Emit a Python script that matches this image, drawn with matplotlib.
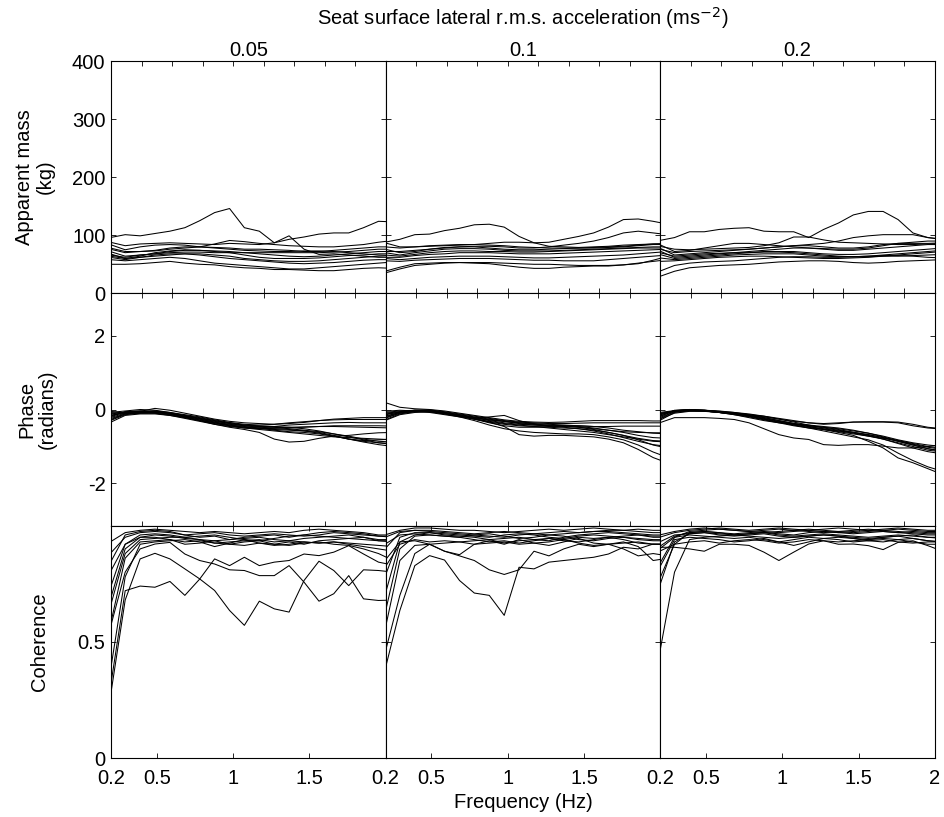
import matplotlib
matplotlib.use("Agg")
import matplotlib.pyplot as plt

plt.rcParams['font.family'] = ['Liberation Sans', 'DejaVu Sans']

freqs = [0.195, 0.293, 0.391, 0.488, 0.586, 0.684, 0.781, 0.879, 0.977, 1.074,
         1.172, 1.270, 1.367, 1.465, 1.563, 1.660, 1.758, 1.855, 1.953, 2.051]

col_labels = ["0.05", "0.1", "0.2"]

mass_005 = [
    [96, 101, 99, 103, 107, 113, 125, 139, 146, 113, 107, 87, 99, 76, 67, 68, 66, 64, 62, 62],
    [88, 82, 85, 86, 87, 86, 85, 84, 86, 85, 84, 87, 93, 97, 102, 104, 104, 113, 124, 123],
    [84, 75, 80, 83, 84, 83, 80, 85, 91, 89, 86, 84, 82, 81, 80, 80, 82, 84, 88, 91],
    [78, 72, 72, 74, 78, 80, 80, 79, 78, 76, 76, 75, 74, 72, 72, 74, 76, 78, 80, 80],
    [72, 64, 66, 68, 72, 74, 74, 73, 72, 70, 68, 66, 64, 63, 64, 66, 68, 70, 72, 72],
    [68, 60, 64, 70, 73, 75, 74, 72, 70, 66, 62, 60, 60, 60, 61, 63, 65, 66, 68, 68],
    [66, 62, 66, 68, 70, 71, 71, 70, 70, 70, 70, 70, 70, 70, 70, 71, 72, 74, 76, 76],
    [64, 60, 62, 64, 66, 68, 68, 66, 64, 60, 58, 56, 55, 55, 56, 58, 60, 62, 64, 65],
    [62, 58, 62, 66, 68, 68, 66, 63, 60, 58, 56, 54, 52, 51, 52, 53, 55, 57, 58, 58],
    [58, 56, 58, 60, 62, 60, 56, 52, 50, 48, 46, 44, 42, 42, 44, 46, 48, 50, 52, 54],
    [50, 50, 51, 53, 55, 52, 50, 49, 46, 44, 43, 41, 41, 40, 39, 39, 41, 43, 44, 43],
    [76, 70, 72, 73, 76, 78, 80, 78, 76, 74, 73, 72, 72, 73, 73, 72, 70, 68, 66, 65],
]
mass_01 = [
    [88, 93, 101, 102, 108, 112, 118, 119, 114, 98, 87, 81, 80, 79, 80, 81, 83, 84, 85, 85],
    [87, 80, 80, 81, 82, 83, 84, 86, 88, 88, 87, 88, 93, 98, 104, 114, 127, 128, 124, 119],
    [72, 72, 74, 76, 78, 80, 81, 81, 80, 78, 78, 80, 83, 86, 90, 96, 104, 107, 104, 101],
    [80, 78, 80, 82, 83, 84, 84, 83, 82, 80, 79, 78, 78, 78, 79, 80, 81, 83, 85, 86],
    [76, 70, 72, 76, 79, 80, 80, 78, 76, 75, 75, 76, 77, 78, 78, 79, 80, 82, 84, 84],
    [70, 66, 70, 73, 76, 77, 77, 76, 74, 73, 73, 73, 74, 75, 76, 77, 78, 79, 80, 80],
    [66, 64, 67, 70, 72, 73, 73, 72, 72, 71, 71, 72, 73, 74, 75, 76, 77, 78, 78, 78],
    [62, 62, 65, 67, 68, 70, 70, 70, 69, 68, 68, 68, 69, 70, 71, 72, 73, 74, 75, 76],
    [60, 58, 60, 62, 63, 64, 64, 64, 63, 62, 61, 61, 62, 63, 64, 65, 66, 68, 70, 72],
    [56, 55, 57, 58, 59, 60, 60, 60, 59, 58, 57, 57, 56, 56, 56, 58, 60, 62, 64, 66],
    [38, 45, 51, 52, 53, 53, 52, 51, 48, 45, 43, 43, 45, 46, 47, 47, 49, 51, 57, 64],
    [35, 42, 48, 50, 52, 53, 53, 53, 52, 51, 50, 50, 49, 48, 48, 48, 49, 52, 55, 58],
]
mass_02 = [
    [91, 96, 106, 106, 110, 112, 113, 107, 106, 106, 96, 110, 121, 135, 141, 141, 127, 104, 96, 93],
    [81, 76, 75, 76, 77, 78, 79, 82, 87, 97, 97, 92, 88, 87, 86, 85, 84, 84, 85, 86],
    [76, 70, 72, 73, 74, 75, 76, 78, 80, 82, 84, 86, 90, 96, 99, 101, 101, 101, 96, 93],
    [84, 72, 74, 78, 82, 86, 86, 84, 82, 80, 78, 77, 76, 76, 78, 82, 86, 88, 90, 90],
    [78, 66, 68, 70, 72, 74, 76, 78, 80, 82, 82, 80, 78, 78, 80, 84, 86, 86, 86, 87],
    [73, 62, 64, 66, 68, 70, 72, 74, 76, 78, 78, 76, 74, 74, 76, 78, 80, 82, 84, 84],
    [67, 60, 62, 64, 66, 68, 70, 72, 72, 72, 70, 68, 67, 67, 68, 70, 72, 74, 76, 78],
    [61, 58, 60, 62, 64, 66, 67, 68, 68, 68, 66, 64, 63, 63, 64, 66, 68, 70, 72, 74],
    [55, 56, 58, 60, 62, 63, 64, 64, 63, 62, 61, 60, 60, 61, 62, 64, 66, 68, 70, 72],
    [70, 64, 66, 68, 69, 70, 70, 71, 71, 70, 68, 66, 64, 63, 63, 64, 64, 65, 66, 67],
    [38, 48, 52, 54, 55, 56, 58, 60, 62, 63, 63, 62, 62, 63, 64, 65, 65, 64, 62, 61],
    [29, 38, 44, 46, 48, 49, 50, 52, 54, 55, 56, 56, 55, 53, 52, 53, 55, 56, 57, 58],
]

phase_005 = [
    [-0.05, -0.10, -0.05, 0.03, -0.02, -0.10, -0.18, -0.26, -0.32, -0.36, -0.38, -0.40, -0.38, -0.35, -0.30, -0.26, -0.24, -0.22, -0.22, -0.22],
    [-0.10, -0.08, -0.06, -0.04, -0.08, -0.14, -0.20, -0.28, -0.35, -0.40, -0.42, -0.40, -0.36, -0.33, -0.30, -0.28, -0.27, -0.27, -0.27, -0.27],
    [-0.15, -0.10, -0.08, -0.08, -0.12, -0.18, -0.24, -0.30, -0.36, -0.42, -0.46, -0.46, -0.42, -0.40, -0.38, -0.36, -0.35, -0.36, -0.36, -0.36],
    [-0.20, -0.06, -0.04, -0.06, -0.12, -0.20, -0.28, -0.36, -0.44, -0.50, -0.52, -0.50, -0.48, -0.47, -0.46, -0.46, -0.47, -0.48, -0.49, -0.50],
    [-0.25, -0.12, -0.10, -0.10, -0.14, -0.22, -0.30, -0.40, -0.48, -0.54, -0.62, -0.80, -0.88, -0.86, -0.78, -0.72, -0.70, -0.66, -0.63, -0.62],
    [-0.30, -0.14, -0.10, -0.08, -0.12, -0.18, -0.26, -0.34, -0.42, -0.48, -0.52, -0.54, -0.56, -0.58, -0.64, -0.72, -0.80, -0.84, -0.82, -0.80],
    [-0.08, -0.04, 0.00, -0.02, -0.08, -0.16, -0.24, -0.32, -0.38, -0.42, -0.44, -0.46, -0.48, -0.52, -0.58, -0.66, -0.74, -0.82, -0.90, -0.95],
    [-0.18, -0.06, -0.04, -0.06, -0.12, -0.20, -0.30, -0.38, -0.44, -0.48, -0.50, -0.52, -0.54, -0.58, -0.62, -0.70, -0.80, -0.88, -0.95, -1.00],
    [-0.35, -0.16, -0.12, -0.12, -0.16, -0.22, -0.30, -0.36, -0.42, -0.46, -0.50, -0.56, -0.60, -0.62, -0.66, -0.72, -0.80, -0.86, -0.90, -0.92],
    [-0.12, -0.08, -0.06, -0.06, -0.10, -0.16, -0.22, -0.30, -0.38, -0.44, -0.48, -0.50, -0.50, -0.48, -0.46, -0.44, -0.44, -0.44, -0.44, -0.45],
    [-0.22, -0.10, -0.08, -0.10, -0.16, -0.24, -0.32, -0.40, -0.46, -0.50, -0.54, -0.58, -0.62, -0.66, -0.70, -0.74, -0.76, -0.78, -0.80, -0.82],
    [-0.28, -0.12, -0.06, -0.04, -0.10, -0.18, -0.26, -0.34, -0.40, -0.44, -0.46, -0.48, -0.52, -0.56, -0.60, -0.66, -0.72, -0.80, -0.86, -0.88],
]
phase_01 = [
    [0.19, 0.06, 0.02, 0.00, -0.04, -0.10, -0.16, -0.22, -0.28, -0.32, -0.34, -0.35, -0.34, -0.32, -0.30, -0.30, -0.30, -0.30, -0.31, -0.31],
    [-0.10, -0.06, -0.02, -0.01, -0.06, -0.12, -0.18, -0.24, -0.30, -0.34, -0.36, -0.38, -0.38, -0.37, -0.36, -0.36, -0.36, -0.36, -0.36, -0.36],
    [-0.20, -0.08, -0.03, -0.04, -0.10, -0.16, -0.22, -0.28, -0.32, -0.36, -0.38, -0.40, -0.42, -0.44, -0.46, -0.46, -0.45, -0.45, -0.45, -0.45],
    [-0.28, -0.12, -0.06, -0.06, -0.12, -0.18, -0.24, -0.20, -0.16, -0.30, -0.40, -0.44, -0.46, -0.48, -0.52, -0.56, -0.60, -0.62, -0.63, -0.63],
    [-0.15, -0.06, -0.04, -0.06, -0.12, -0.20, -0.30, -0.42, -0.52, -0.58, -0.62, -0.64, -0.66, -0.66, -0.68, -0.74, -0.82, -0.96, -1.15, -1.30],
    [-0.30, -0.14, -0.08, -0.06, -0.10, -0.16, -0.24, -0.34, -0.46, -0.68, -0.72, -0.70, -0.70, -0.72, -0.74, -0.80, -0.90, -1.08, -1.30, -1.45],
    [-0.05, -0.02, -0.04, -0.08, -0.14, -0.20, -0.26, -0.32, -0.38, -0.42, -0.46, -0.50, -0.54, -0.58, -0.62, -0.68, -0.74, -0.80, -0.86, -0.88],
    [-0.24, -0.10, -0.04, -0.03, -0.08, -0.14, -0.22, -0.30, -0.36, -0.40, -0.42, -0.44, -0.48, -0.52, -0.58, -0.66, -0.76, -0.86, -0.95, -1.00],
    [-0.12, -0.08, -0.04, -0.04, -0.08, -0.14, -0.20, -0.26, -0.32, -0.38, -0.42, -0.44, -0.44, -0.46, -0.50, -0.56, -0.62, -0.70, -0.76, -0.78],
    [-0.18, -0.08, -0.02, -0.02, -0.08, -0.16, -0.26, -0.36, -0.44, -0.48, -0.48, -0.46, -0.44, -0.44, -0.46, -0.50, -0.56, -0.60, -0.64, -0.66],
    [-0.08, -0.04, -0.02, -0.04, -0.10, -0.16, -0.22, -0.28, -0.32, -0.36, -0.40, -0.42, -0.44, -0.48, -0.54, -0.62, -0.70, -0.78, -0.84, -0.86],
    [-0.22, -0.10, -0.06, -0.06, -0.10, -0.18, -0.26, -0.34, -0.40, -0.44, -0.46, -0.48, -0.50, -0.52, -0.56, -0.62, -0.70, -0.82, -0.96, -1.05],
]
phase_02 = [
    [-0.20, -0.02, 0.00, -0.02, -0.06, -0.10, -0.14, -0.18, -0.24, -0.30, -0.36, -0.40, -0.38, -0.34, -0.33, -0.33, -0.34, -0.40, -0.48, -0.52],
    [-0.12, -0.04, -0.02, -0.03, -0.06, -0.10, -0.14, -0.20, -0.26, -0.32, -0.36, -0.38, -0.36, -0.34, -0.34, -0.34, -0.36, -0.44, -0.50, -0.53],
    [-0.36, -0.22, -0.22, -0.22, -0.24, -0.27, -0.36, -0.52, -0.68, -0.77, -0.81, -0.95, -0.97, -0.95, -0.95, -0.99, -1.04, -1.04, -1.00, -0.95],
    [-0.15, -0.03, 0.00, -0.02, -0.06, -0.10, -0.16, -0.22, -0.30, -0.38, -0.46, -0.54, -0.62, -0.70, -0.86, -1.04, -1.31, -1.44, -1.60, -1.76],
    [-0.10, -0.04, -0.02, -0.04, -0.08, -0.12, -0.18, -0.26, -0.34, -0.42, -0.50, -0.58, -0.66, -0.74, -0.82, -0.96, -1.18, -1.38, -1.55, -1.67],
    [-0.25, -0.06, -0.02, -0.04, -0.08, -0.12, -0.18, -0.26, -0.34, -0.40, -0.46, -0.52, -0.58, -0.64, -0.72, -0.80, -0.90, -1.00, -1.10, -1.15],
    [-0.18, -0.04, 0.00, -0.02, -0.05, -0.08, -0.12, -0.18, -0.26, -0.34, -0.42, -0.50, -0.56, -0.62, -0.68, -0.76, -0.86, -0.96, -1.06, -1.12],
    [-0.30, -0.08, -0.04, -0.04, -0.08, -0.14, -0.22, -0.30, -0.36, -0.40, -0.44, -0.48, -0.54, -0.62, -0.70, -0.80, -0.92, -1.04, -1.14, -1.20],
    [-0.08, -0.03, -0.01, -0.02, -0.04, -0.08, -0.14, -0.22, -0.30, -0.38, -0.44, -0.48, -0.52, -0.58, -0.64, -0.72, -0.82, -0.90, -0.96, -1.00],
    [-0.22, -0.06, -0.03, -0.03, -0.06, -0.10, -0.16, -0.24, -0.32, -0.38, -0.42, -0.46, -0.50, -0.56, -0.64, -0.74, -0.84, -0.94, -1.02, -1.08],
    [-0.14, -0.05, -0.02, -0.04, -0.08, -0.14, -0.20, -0.28, -0.36, -0.44, -0.50, -0.54, -0.58, -0.62, -0.68, -0.76, -0.86, -0.96, -1.06, -1.14],
    [-0.26, -0.10, -0.05, -0.05, -0.08, -0.12, -0.18, -0.26, -0.34, -0.42, -0.48, -0.54, -0.60, -0.66, -0.72, -0.78, -0.84, -0.92, -1.00, -1.05],
]

coh_005 = [
    [0.30, 0.72, 0.74, 0.735, 0.76, 0.70, 0.77, 0.857, 0.828, 0.864, 0.828, 0.843, 0.85, 0.878, 0.871, 0.886, 0.914, 0.878, 0.843, 0.83],
    [0.26, 0.68, 0.857, 0.881, 0.857, 0.814, 0.771, 0.721, 0.635, 0.571, 0.675, 0.642, 0.628, 0.764, 0.847, 0.807, 0.742, 0.81, 0.807, 0.80],
    [0.56, 0.80, 0.90, 0.921, 0.928, 0.878, 0.85, 0.835, 0.81, 0.807, 0.785, 0.785, 0.828, 0.757, 0.675, 0.707, 0.785, 0.685, 0.678, 0.68],
    [0.93, 0.97, 0.98, 0.985, 0.98, 0.975, 0.97, 0.975, 0.97, 0.965, 0.97, 0.975, 0.97, 0.98, 0.985, 0.98, 0.975, 0.97, 0.96, 0.96],
    [0.84, 0.96, 0.975, 0.98, 0.975, 0.96, 0.95, 0.955, 0.94, 0.95, 0.955, 0.96, 0.95, 0.96, 0.97, 0.975, 0.97, 0.965, 0.955, 0.95],
    [0.68, 0.90, 0.95, 0.96, 0.955, 0.945, 0.94, 0.925, 0.93, 0.935, 0.94, 0.93, 0.935, 0.945, 0.95, 0.955, 0.96, 0.95, 0.94, 0.94],
    [0.57, 0.86, 0.93, 0.935, 0.94, 0.92, 0.925, 0.935, 0.92, 0.93, 0.935, 0.92, 0.93, 0.92, 0.935, 0.94, 0.945, 0.95, 0.935, 0.93],
    [0.37, 0.78, 0.92, 0.93, 0.935, 0.94, 0.93, 0.91, 0.925, 0.94, 0.925, 0.915, 0.92, 0.93, 0.925, 0.93, 0.92, 0.91, 0.90, 0.89],
    [0.88, 0.95, 0.97, 0.975, 0.97, 0.96, 0.965, 0.97, 0.96, 0.955, 0.96, 0.965, 0.96, 0.955, 0.96, 0.97, 0.965, 0.96, 0.955, 0.955],
    [0.80, 0.92, 0.95, 0.95, 0.94, 0.93, 0.935, 0.925, 0.92, 0.915, 0.925, 0.92, 0.915, 0.925, 0.93, 0.92, 0.915, 0.90, 0.88, 0.85],
    [0.65, 0.88, 0.94, 0.945, 0.95, 0.95, 0.94, 0.935, 0.94, 0.945, 0.95, 0.94, 0.935, 0.93, 0.925, 0.93, 0.925, 0.92, 0.915, 0.91],
    [0.73, 0.92, 0.96, 0.965, 0.96, 0.95, 0.955, 0.96, 0.95, 0.94, 0.935, 0.945, 0.955, 0.96, 0.955, 0.95, 0.945, 0.94, 0.935, 0.935],
]
coh_01 = [
    [0.378, 0.635, 0.828, 0.871, 0.852, 0.764, 0.71, 0.70, 0.614, 0.821, 0.814, 0.843, 0.85, 0.857, 0.864, 0.878, 0.907, 0.90, 0.921, 0.92],
    [0.45, 0.70, 0.88, 0.92, 0.89, 0.87, 0.85, 0.81, 0.79, 0.81, 0.89, 0.87, 0.90, 0.92, 0.91, 0.92, 0.90, 0.87, 0.88, 0.87],
    [0.55, 0.85, 0.915, 0.92, 0.89, 0.875, 0.92, 0.935, 0.92, 0.94, 0.925, 0.915, 0.93, 0.945, 0.925, 0.92, 0.93, 0.91, 0.85, 0.86],
    [0.96, 0.98, 0.99, 0.99, 0.985, 0.98, 0.98, 0.975, 0.97, 0.975, 0.98, 0.985, 0.98, 0.985, 0.99, 0.985, 0.98, 0.985, 0.98, 0.98],
    [0.90, 0.97, 0.98, 0.975, 0.97, 0.965, 0.96, 0.955, 0.95, 0.96, 0.965, 0.97, 0.975, 0.97, 0.975, 0.98, 0.98, 0.975, 0.97, 0.97],
    [0.78, 0.95, 0.97, 0.97, 0.96, 0.955, 0.95, 0.94, 0.945, 0.95, 0.94, 0.935, 0.95, 0.96, 0.965, 0.97, 0.965, 0.96, 0.955, 0.955],
    [0.62, 0.90, 0.955, 0.96, 0.955, 0.95, 0.94, 0.93, 0.935, 0.925, 0.935, 0.945, 0.94, 0.95, 0.945, 0.95, 0.955, 0.96, 0.95, 0.95],
    [0.92, 0.96, 0.965, 0.96, 0.955, 0.95, 0.96, 0.965, 0.955, 0.945, 0.95, 0.96, 0.955, 0.94, 0.935, 0.945, 0.95, 0.94, 0.935, 0.935],
    [0.85, 0.93, 0.935, 0.92, 0.925, 0.93, 0.935, 0.94, 0.925, 0.935, 0.94, 0.945, 0.935, 0.93, 0.94, 0.95, 0.94, 0.925, 0.92, 0.92],
    [0.70, 0.93, 0.96, 0.97, 0.965, 0.96, 0.955, 0.95, 0.96, 0.965, 0.96, 0.95, 0.945, 0.955, 0.96, 0.955, 0.95, 0.945, 0.94, 0.94],
    [0.95, 0.975, 0.98, 0.98, 0.975, 0.97, 0.965, 0.97, 0.975, 0.97, 0.965, 0.96, 0.965, 0.97, 0.975, 0.975, 0.97, 0.965, 0.96, 0.96],
    [0.82, 0.92, 0.94, 0.93, 0.935, 0.93, 0.92, 0.925, 0.93, 0.92, 0.925, 0.93, 0.94, 0.925, 0.915, 0.92, 0.925, 0.93, 0.92, 0.92],
]
coh_02 = [
    [0.45, 0.80, 0.94, 0.95, 0.955, 0.96, 0.965, 0.97, 0.965, 0.96, 0.97, 0.975, 0.97, 0.965, 0.97, 0.975, 0.97, 0.965, 0.96, 0.96],
    [0.77, 0.92, 0.97, 0.975, 0.97, 0.965, 0.97, 0.975, 0.97, 0.975, 0.98, 0.975, 0.97, 0.975, 0.98, 0.975, 0.97, 0.975, 0.97, 0.97],
    [0.907, 0.907, 0.90, 0.89, 0.92, 0.92, 0.915, 0.886, 0.85, 0.886, 0.921, 0.935, 0.93, 0.935, 0.94, 0.945, 0.94, 0.93, 0.92, 0.92],
    [0.89, 0.92, 0.93, 0.935, 0.925, 0.935, 0.94, 0.935, 0.925, 0.93, 0.94, 0.935, 0.92, 0.921, 0.914, 0.897, 0.928, 0.935, 0.914, 0.89],
    [0.74, 0.93, 0.965, 0.97, 0.965, 0.96, 0.955, 0.95, 0.945, 0.95, 0.955, 0.96, 0.955, 0.95, 0.945, 0.95, 0.955, 0.96, 0.95, 0.945],
    [0.835, 0.95, 0.975, 0.98, 0.985, 0.98, 0.975, 0.97, 0.975, 0.98, 0.985, 0.98, 0.975, 0.97, 0.975, 0.98, 0.985, 0.98, 0.975, 0.975],
    [0.95, 0.97, 0.98, 0.985, 0.99, 0.985, 0.98, 0.985, 0.99, 0.985, 0.98, 0.985, 0.99, 0.985, 0.98, 0.985, 0.99, 0.985, 0.98, 0.98],
    [0.93, 0.96, 0.965, 0.97, 0.96, 0.955, 0.96, 0.965, 0.955, 0.95, 0.955, 0.96, 0.955, 0.945, 0.94, 0.95, 0.955, 0.945, 0.935, 0.93],
    [0.90, 0.95, 0.96, 0.955, 0.95, 0.945, 0.95, 0.94, 0.93, 0.94, 0.95, 0.945, 0.94, 0.93, 0.935, 0.94, 0.93, 0.925, 0.93, 0.93],
    [0.96, 0.975, 0.985, 0.99, 0.985, 0.98, 0.975, 0.98, 0.985, 0.98, 0.975, 0.97, 0.975, 0.98, 0.985, 0.98, 0.975, 0.97, 0.965, 0.965],
    [0.82, 0.94, 0.95, 0.945, 0.94, 0.93, 0.935, 0.945, 0.93, 0.915, 0.93, 0.945, 0.95, 0.945, 0.935, 0.93, 0.94, 0.945, 0.935, 0.93],
    [0.91, 0.955, 0.97, 0.975, 0.97, 0.96, 0.965, 0.97, 0.96, 0.955, 0.96, 0.965, 0.96, 0.955, 0.95, 0.955, 0.96, 0.955, 0.95, 0.95],
]

panels = [[mass_005, mass_01, mass_02],
          [phase_005, phase_01, phase_02],
          [coh_005, coh_01, coh_02]]

W, H = 944, 817
fig = plt.figure(figsize=(W / 100, H / 100), dpi=100)

left_px, right_px = 111, 935
top_px, bottom_px = 61, 758
cw = (right_px - left_px) / 3
rh = (bottom_px - top_px) / 3

FS = 14.5
ylims = [(0, 400), (-3.14159, 3.14159), (0, 1)]
yticks = [[0, 100, 200, 300, 400], [-2, 0, 2], [0, 0.5, 1]]
yticklabels = [["0", "100", "200", "300", "400"], ["-2", "0", "2"], ["0", "0.5", ""]]

for r in range(3):
    for c in range(3):
        x0 = (left_px + c * cw) / W
        y0 = 1 - (top_px + (r + 1) * rh) / H
        ax = fig.add_axes([x0, y0, cw / W, rh / H])
        for line in panels[r][c]:
            ax.plot(freqs, line, color='black', lw=0.75, clip_on=True)
        ax.set_xlim(0.2, 2.0)
        ax.set_ylim(*ylims[r])
        for s in ax.spines.values():
            s.set_linewidth(0.8)
        ax.tick_params(direction='in', length=3.5, width=0.6, top=True, right=True,
                       labelsize=FS)
        ax.tick_params(axis='x', pad=8)
        ax.tick_params(axis='y', pad=4)
        if r < 2:
            ax.set_xticks([0.4, 0.6, 0.8, 1.0, 1.2, 1.4, 1.6, 1.8])
            ax.set_xticklabels([])
        else:
            ax.set_xticks([0.2, 0.5, 1.0, 1.5, 2.0])
            if c < 2:
                ax.set_xticklabels(["0.2", "0.5", "1", "1.5", ""])
            else:
                ax.set_xticklabels(["0.2", "0.5", "1", "1.5", "2"])
        ax.set_yticks(yticks[r])
        if c == 0:
            ax.set_yticklabels(yticklabels[r])
        else:
            ax.set_yticklabels([])

# column headers and titles
for c in range(3):
    xc = (left_px + (c + 0.5) * cw) / W
    fig.text(xc, 1 - 51 / H, col_labels[c], ha='center', va='center', fontsize=FS)

fig.text((left_px + right_px) / 2 / W, 1 - 18 / H,
         "Seat surface lateral r.m.s. acceleration (ms$^{-2}$)",
         ha='center', va='center', fontsize=FS)
fig.text((left_px + right_px) / 2 / W, 1 - 802 / H, "Frequency (Hz)",
         ha='center', va='center', fontsize=FS)

fig.text(35 / W, 1 - (top_px + 0.5 * rh) / H, "Apparent mass\n(kg)", rotation=90,
         ha='center', va='center', fontsize=FS, multialignment='center', linespacing=1.1)
fig.text(37 / W, 1 - (top_px + 1.5 * rh) / H, "Phase\n(radians)", rotation=90,
         ha='center', va='center', fontsize=FS, multialignment='center', linespacing=1.1)
fig.text(40 / W, 1 - (top_px + 2.5 * rh) / H, "Coherence", rotation=90,
         ha='center', va='center', fontsize=FS)

fig.savefig("out.png", dpi=100)
